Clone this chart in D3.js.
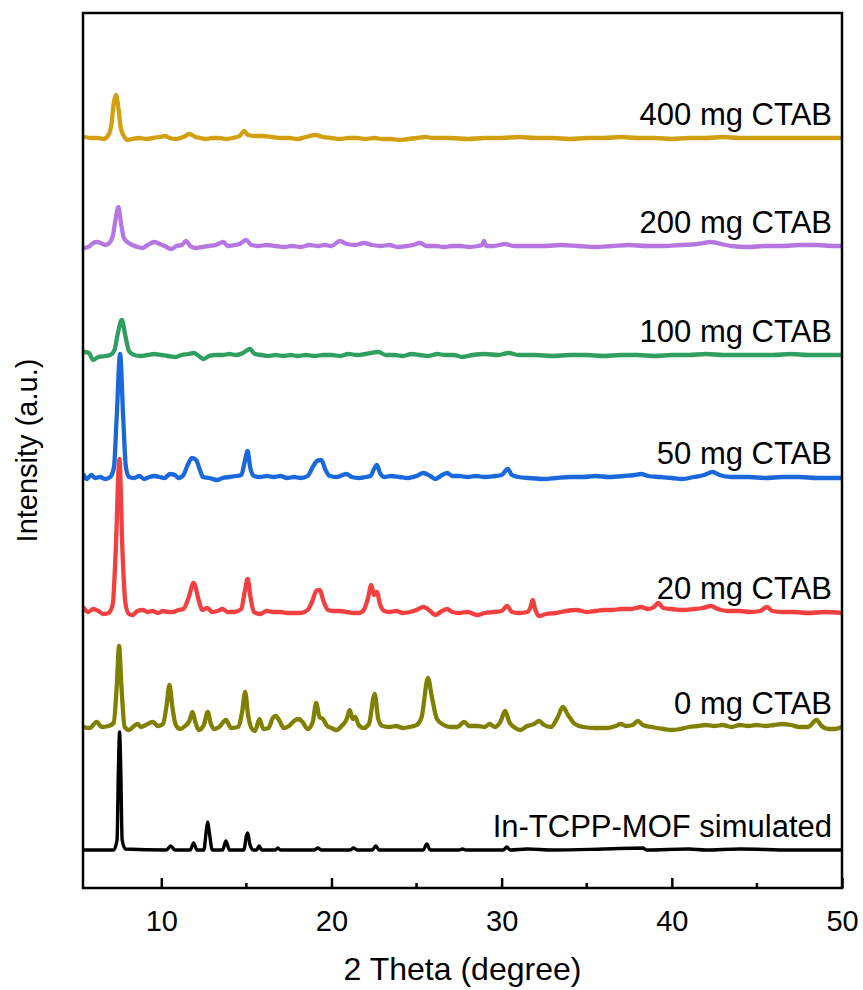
<!DOCTYPE html>
<html>
<head>
<meta charset="utf-8">
<script src="https://cdn.jsdelivr.net/npm/d3@7"></script>
<style>
    body { margin: 0; background: #fff; }
    svg text { font-family: Arial, "Liberation Sans", sans-serif; fill: #000; }
</style>
</head>
<body>
<svg class="xrd" width="863" height="990"></svg>
<script>

// 2 theta range and tick values
const X_DOMAIN = [5.4, 50];
const MAJOR_TICKS = [10, 20, 30, 40, 50];
const MINOR_TICKS = [15, 25, 35, 45];

// series labels, bottom to top
const SERIES_NAMES = ['In-TCPP-MOF simulated', '0 mg CTAB', '20 mg CTAB', '50 mg CTAB',
                      '100 mg CTAB', '200 mg CTAB', '400 mg CTAB'];

// vertical stacking offset for each pattern (a.u.)
const STACK_OFFSETS = [38, 161, 276, 411, 533, 642, 750];

// [2theta, intensity above the pattern's baseline]
const simulated = [[5.4,0],[7.2,0],[7.4,10],[7.48,80],[7.55,118],[7.62,80],[7.7,10],[7.9,1],[10.3,0],[10.55,4],[10.8,0],
    [11.7,0],[11.9,7],[12.1,0],[12.5,0],[12.65,20],[12.73,28],[12.82,18],[13.0,0],[13.6,0],[13.8,9],[14.0,0],[14.85,0],
    [15.0,14],[15.08,17],[15.2,6],[15.4,0],[15.6,0],[15.75,4],[15.9,0],[16.7,0],[16.85,2],[17.0,0],[19.0,0],[19.2,2],
    [19.4,0],[21.1,0],[21.3,2],[21.5,0],[22.4,0],[22.6,4],[22.8,0],[25.4,0],[25.6,6],[25.8,0],[27.5,0],[27.7,1],[27.9,0],
    [30.1,0],[30.3,3],[30.5,0],[31.5,1],[33,0],[36,1],[38.3,2],[38.5,0],[41,1],[42,0],[44,1],[47,0],[50,0]];

const ctab0 = [[5.4,0],[5.8,-1],[6.2,5],[6.5,0],[6.9,1],[7.2,4],[7.38,40],[7.52,81],[7.66,40],[7.85,0],[8.1,-3],[8.4,1],
    [8.6,3],[8.8,0],[9.1,2],[9.5,5],[9.8,1],[10.1,3],[10.3,20],[10.48,42],[10.65,20],[10.85,2],[11.1,-2],[11.4,1],
    [11.65,6],[11.83,15],[12.0,5],[12.2,-3],[12.5,2],[12.73,15],[12.9,4],[13.1,-2],[13.4,0],[13.8,7],[14.1,-1],[14.5,0],
    [14.75,15],[14.93,35],[15.1,12],[15.3,-1],[15.5,-4],[15.77,8],[16.0,-2],[16.3,-1],[16.55,9],[16.73,11],[16.95,6],
    [17.2,-1],[17.5,1],[17.8,6],[18.05,8],[18.3,5],[18.6,-2],[18.9,5],[19.1,24],[19.3,10],[19.5,8],[19.75,1],[20.0,-1],
    [20.3,-3],[20.6,1],[20.9,8],[21.07,17],[21.25,8],[21.4,10],[21.6,2],[21.9,-1],[22.2,3],[22.54,33],[22.75,8],[23.0,1],
    [23.4,0],[23.8,1],[24.2,-1],[24.6,0],[25.0,2],[25.3,10],[25.67,49],[25.9,30],[26.2,8],[26.6,2],[27.0,0],[27.4,0],
    [27.8,5],[28.1,1],[28.6,1],[29.0,0],[29.3,3],[29.6,0],[29.95,6],[30.2,16],[30.45,5],[30.8,-1],[31.1,-3],[31.5,1],
    [31.9,3],[32.2,6],[32.5,2],[32.9,0],[33.3,10],[33.6,20],[33.9,12],[34.3,3],[34.8,0],[35.5,-1],[36.2,-1],[36.7,1],
    [37.0,3],[37.3,1],[37.7,2],[38.0,6],[38.3,2],[38.8,0],[39.5,-2],[40.0,-3],[40.5,-2],[41.0,0],[41.5,1],[42.0,2],
    [42.5,1],[43.0,2],[43.5,0],[44.0,2],[44.5,1],[45.0,2],[45.5,1],[46.0,2],[46.5,3],[47.0,2],[47.5,0],[48.0,0],
    [48.5,7],[48.8,1],[49.2,-2],[49.6,-2],[50,0]];

const ctab20 = [[5.45,4],[5.7,0],[6.0,3],[6.3,1],[6.6,-2],[6.9,-1],[7.15,8],[7.32,60],[7.54,153],[7.72,60],[7.9,8],
    [8.1,-2],[8.3,-3],[8.6,1],[8.9,2],[9.2,0],[9.5,1],[9.8,-1],[10.1,1],[10.4,0],[10.7,0],[11.0,2],[11.3,3],[11.6,14],
    [11.9,29],[12.2,12],[12.4,2],[12.7,4],[13.0,0],[13.3,1],[13.6,3],[13.9,0],[14.3,0],[14.7,3],[14.9,20],[15.08,33],
    [15.25,14],[15.45,0],[15.8,-2],[16.2,1],[16.6,0],[17.0,0],[17.4,-1],[17.8,-1],[18.2,-1],[18.6,2],[18.9,12],[19.1,21],
    [19.3,22],[19.55,10],[19.8,2],[20.1,1],[20.5,1],[20.9,0],[21.3,-1],[21.6,-1],[21.9,2],[22.15,14],[22.34,27],[22.5,17],
    [22.67,20],[22.85,8],[23.1,1],[23.4,0],[23.8,1],[24.2,-1],[24.6,0],[25.0,2],[25.4,5],[25.8,1],[26.1,-3],[26.5,1],
    [26.8,3],[27.1,0],[27.5,-1],[28.0,0],[28.56,-3],[29.0,-1],[29.5,0],[30.0,1],[30.32,6],[30.6,0],[31.0,-1],[31.5,0],
    [31.7,5],[31.83,12],[31.95,4],[32.2,-4],[32.6,-2],[33.2,-1],[33.8,1],[34.4,2],[35.0,0],[35.5,1],[36.0,2],[36.5,2],
    [37.0,3],[37.6,3],[38.2,5],[38.6,3],[38.95,5],[39.2,9],[39.5,4],[40.0,3],[40.6,2],[41.3,3],[41.8,4],[42.3,6],
    [42.7,3],[43.3,1],[44.0,1],[44.6,0],[45.2,1],[45.45,4],[45.6,5],[45.9,1],[46.5,0],[47.2,0],[48.0,-1],[49.0,0],[50,-1]];

const ctab50 = [[5.45,2],[5.6,-2],[5.9,2],[6.1,-1],[6.4,0],[6.7,-2],[7.0,0],[7.22,10],[7.38,60],[7.58,123],[7.76,60],
    [7.92,10],[8.1,0],[8.4,-1],[8.7,1],[9.0,-2],[9.3,0],[9.6,1],[9.9,0],[10.2,-1],[10.5,3],[10.8,2],[11.0,-1],[11.3,2],
    [11.55,12],[11.8,19],[12.05,17],[12.25,8],[12.45,0],[12.8,-1],[13.3,-3],[13.6,-1],[14.0,0],[14.4,1],[14.7,2],
    [14.9,15],[15.07,26],[15.22,10],[15.45,1],[15.8,0],[16.2,1],[16.6,0],[17.0,1],[17.4,-1],[17.8,0],[18.2,-1],[18.6,1],
    [18.9,10],[19.15,16],[19.4,17],[19.65,7],[19.9,1],[20.3,0],[20.87,3],[21.2,0],[21.6,-1],[22.0,0],[22.3,1],[22.5,8],
    [22.67,12],[22.85,4],[23.1,0],[23.5,1],[24.0,0],[24.5,-1],[25.0,1],[25.4,4],[25.8,1],[26.1,-2],[26.5,2],[26.8,4],
    [27.1,1],[27.5,1],[28.0,0],[28.5,1],[29.0,0],[29.6,1],[30.0,2],[30.36,8],[30.6,2],[31.0,0],[31.6,-1],[32.5,-2],
    [33.2,-1],[34.0,0],[34.8,0],[35.5,1],[36.3,0],[37.2,1],[37.8,2],[38.2,3],[38.6,1],[39.3,0],[40.0,-1],[40.6,-2],
    [41.3,0],[41.9,2],[42.4,5],[42.8,2],[43.5,0],[44.5,0],[45.5,-1],[46.5,0],[47.5,0],[48.5,-1],[50,-1]];

const ctab100 = [[5.5,3],[5.75,2],[6.0,-5],[6.3,-2],[6.7,-1],[7.0,0],[7.25,5],[7.45,22],[7.68,35],[7.88,20],[8.1,4],
    [8.4,0],[8.8,-1],[9.2,0],[9.6,1],[10.0,0],[10.4,-1],[10.8,-2],[11.2,0],[11.6,1],[11.9,2],[12.2,-1],[12.5,-4],
    [12.8,-1],[13.2,0],[13.6,0],[14.0,1],[14.4,0],[14.8,2],[15.2,6],[15.5,1],[15.9,0],[16.3,-1],[16.7,0],[17.2,-1],
    [17.6,0],[18.0,-1],[18.5,0],[19.0,-1],[19.5,0],[20.0,0],[20.5,-1],[21.0,1],[21.5,0],[22.0,1],[22.75,3],[23.2,0],
    [23.7,0],[24.2,-1],[24.7,1],[25.2,0],[25.7,-1],[26.2,1],[26.7,0],[27.2,0],[27.7,-2],[28.3,0],[29.0,1],[29.8,0],
    [30.4,2],[31.0,0],[32.0,0],[33.0,-1],[34.0,0],[35.0,0],[36.0,-1],[37.0,0],[38.0,0],[39.0,-1],[40.0,0],[41.0,0],
    [42.0,1],[43.0,0],[44.0,0],[45.0,0],[46.0,0],[47.0,1],[48.0,0],[49.0,0],[50,0]];

const ctab200 = [[5.5,-2],[5.8,0],[6.0,3],[6.2,4],[6.45,3],[6.7,1],[6.95,3],[7.15,10],[7.3,25],[7.48,39],[7.64,22],
    [7.8,8],[8.0,4],[8.3,1],[8.6,-1],[8.9,-2],[9.2,1],[9.6,4],[9.9,2],[10.2,0],[10.6,-3],[10.9,0],[11.2,1],[11.45,5],
    [11.7,0],[12.0,-2],[12.4,-1],[12.8,0],[13.2,1],[13.65,4],[13.9,0],[14.3,1],[14.6,2],[14.97,6],[15.3,1],[15.7,0],
    [16.2,1],[16.7,0],[17.2,-1],[17.7,0],[18.2,-1],[18.7,1],[19.2,0],[19.6,1],[20.0,0],[20.5,5],[20.9,2],[21.4,1],
    [21.9,3],[22.4,1],[22.9,0],[23.4,1],[23.9,-1],[24.4,0],[24.8,1],[25.2,3],[25.6,0],[26.1,0],[26.6,-1],[27.1,0],
    [27.6,0],[28.1,-1],[28.6,0],[28.85,1],[28.95,5],[29.1,0],[29.5,0],[30.2,2],[30.7,0],[31.5,0],[32.5,0],[33.5,1],
    [34.5,0],[35.5,-1],[36.5,0],[37.5,1],[38.5,0],[39.5,0],[40.5,1],[41.5,2],[42.3,4],[42.9,2],[43.5,0],[44.5,-1],
    [45.5,0],[46.5,0],[47.5,1],[48.5,1],[49.5,0],[50,0]];

const ctab400 = [[5.5,1],[5.9,0],[6.3,0],[6.6,-1],[6.9,3],[7.08,15],[7.2,34],[7.34,43],[7.48,30],[7.62,10],[7.8,2],
    [8.0,-2],[8.3,-1],[8.7,0],[9.1,-1],[9.5,0],[9.9,1],[10.22,2],[10.5,0],[10.9,-1],[11.3,1],[11.65,4],[12.0,1],
    [12.3,0],[12.6,-1],[13.0,0],[13.4,0],[13.8,-1],[14.2,0],[14.6,2],[14.87,7],[15.1,3],[15.5,2],[16.0,2],[16.5,1],
    [17.0,0],[17.5,0],[18.0,-1],[18.5,1],[19.05,3],[19.5,1],[20.0,0],[20.5,-1],[21.0,0],[21.5,0],[22.0,-1],[22.5,0],
    [23.0,-1],[23.5,-1],[24.0,-2],[24.5,-1],[25.0,0],[25.5,1],[26.0,0],[27.0,0],[28.0,-1],[29.0,0],[30.0,0],[31.0,1],
    [32.0,0],[33.0,0],[34.0,-1],[35.0,0],[36.0,0],[37.0,1],[38.0,0],[39.0,0],[40.0,-1],[41.0,0],[42.0,0],[43.0,1],
    [44.0,0],[45.0,0],[46.0,0],[47.0,0],[48.0,0],[49.0,0],[50,0]];

const PATTERNS = [simulated, ctab0, ctab20, ctab50, ctab100, ctab200, ctab400];
const COLORS = ['#000000', '#808000', '#f23f3f', '#1a68dc', '#2f9e5f', '#b576e0', '#d19f10'];

const margin = { top: 13, right: 21, bottom: 102, left: 83 };
const width = 863, height = 990;
const innerW = width - margin.left - margin.right;
const innerH = height - margin.top - margin.bottom;

const svg = d3.select('svg.xrd');
const g = svg.append('g').attr('transform', `translate(${margin.left},${margin.top})`);

const x = d3.scaleLinear().domain(X_DOMAIN).range([0, innerW]);
const y = d3.scaleLinear().domain([0, innerH]).range([innerH, 0]);

g.append('clipPath').attr('id', 'plot-clip')
    .append('rect').attr('width', innerW).attr('height', innerH);

// patterns
const line = d3.line().curve(d3.curveMonotoneX);
const lines = g.append('g').attr('clip-path', 'url(#plot-clip)');

PATTERNS.forEach((pts, i) => {
    const off = STACK_OFFSETS[i];
    lines.append('path')
        .attr('d', line(pts.map(p => [x(p[0]), y(off + p[1])])))
        .attr('fill', 'none')
        .attr('stroke', COLORS[i])
        .attr('stroke-width', i === 0 ? 3.4 : 4.3)
        .attr('stroke-linejoin', 'round')
        .attr('stroke-linecap', 'round');

    g.append('text')
        .attr('x', innerW - 10)
        .attr('y', y(off) - 13)
        .attr('text-anchor', 'end')
        .style('font-size', '31px')
        .text(SERIES_NAMES[i]);
});

// bottom axis, ticks pointing inward
const xAxis = d3.axisBottom(x).tickValues(MAJOR_TICKS).tickSize(-10).tickPadding(22).tickFormat(d3.format('d'));
const ax = g.append('g').attr('transform', `translate(0,${innerH})`).call(xAxis);
ax.select('.domain').remove();
ax.selectAll('.tick line').attr('stroke', '#000').attr('stroke-width', 2.5);
ax.selectAll('.tick text').style('font-size', '29px').attr('font-family', null);

g.append('g').attr('transform', `translate(0,${innerH})`)
    .selectAll('line').data(MINOR_TICKS).enter().append('line')
        .attr('x1', d => x(d)).attr('x2', d => x(d))
        .attr('y1', 0).attr('y2', -5)
        .attr('stroke', '#000').attr('stroke-width', 2.5);

// frame
g.append('rect')
    .attr('width', innerW).attr('height', innerH)
    .attr('fill', 'none').attr('stroke', '#000').attr('stroke-width', 2.5);

// axis titles
svg.append('text')
    .attr('x', margin.left + innerW / 2)
    .attr('y', 980)
    .attr('text-anchor', 'middle')
    .style('font-size', '32px')
    .text('2 Theta (degree)');

svg.append('text')
    .attr('transform', `translate(37,${margin.top + innerH / 2}) rotate(-90)`)
    .attr('text-anchor', 'middle')
    .style('font-size', '29px')
    .text('Intensity (a.u.)');

</script>
</body>
</html>
